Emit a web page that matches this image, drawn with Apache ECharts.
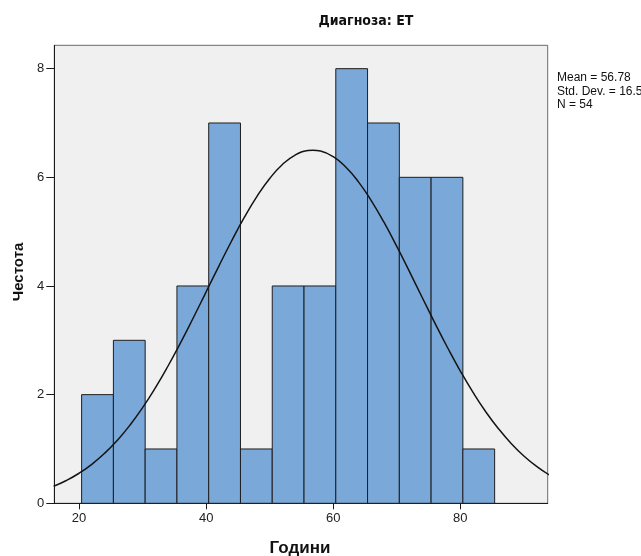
<!DOCTYPE html>
<html>
<head>
<meta charset="utf-8">
<script src="https://cdn.jsdelivr.net/npm/echarts@6/dist/echarts.min.js"></script>
<style>
  html, body { margin: 0; padding: 0; background: #ffffff; }
  #chart { width: 641px; height: 556px; }
</style>
</head>
<body>
<div id="chart"></div>
<script>
// Histogram of ages (Години) for diagnosis ET, with a fitted normal curve.
var binLowerEdges = [20.4, 25.4, 30.4, 35.4, 40.4, 45.4, 50.4, 55.4, 60.4, 65.4, 70.4, 75.4, 80.4];
var binWidth = 5;
var binCounts = [2, 3, 1, 4, 7, 1, 4, 4, 8, 7, 6, 6, 1];

// Normal curve points (age, expected frequency)
var curveX = [16, 18, 20, 22, 24, 26, 28, 30, 32, 34, 36, 38, 40, 42, 44, 46, 48, 50, 52, 54, 56, 56.78,
              58, 60, 62, 64, 66, 68, 70, 72, 74, 76, 78, 80, 82, 84, 86, 88, 90, 92, 94];
var curveY = [0.315, 0.420, 0.553, 0.718, 0.919, 1.158, 1.438, 1.761, 2.125, 2.527, 2.961, 3.420, 3.893,
              4.367, 4.828, 5.261, 5.649, 5.978, 6.236, 6.410, 6.493, 6.500,
              6.483, 6.379, 6.186, 5.912, 5.568, 5.169, 4.728, 4.264, 3.788, 3.317, 2.863, 2.435,
              2.041, 1.686, 1.373, 1.102, 0.871, 0.679, 0.522];

var xTicks = [20, 40, 60, 80];
var yTicks = [0, 2, 4, 6, 8];
var statLines = ['Mean = 56.78', 'Std. Dev. = 16.57', 'N = 54'];

var histData = binLowerEdges.map(function (x0, i) { return [x0, x0 + binWidth, binCounts[i]]; });
var curveData = curveX.map(function (x, i) { return [x, curveY[i]]; });

var chart = echarts.init(document.getElementById('chart'), null, { renderer: 'canvas' });

var labelFont = 'Liberation Sans, Arial, sans-serif';

chart.setOption({
  animation: false,
  backgroundColor: '#ffffff',
  grid: {
    left: 54.3, right: 93.3, top: 45.3, bottom: 52.7,
    show: true,
    backgroundColor: '#f0f0f0',
    borderColor: '#6a6a6a',
    borderWidth: 1
  },
  xAxis: {
    type: 'value',
    min: 16.1,
    max: 93.75,
    splitLine: { show: false },
    axisLine: { show: true, onZero: false, lineStyle: { color: '#1a1a1a', width: 1 } },
    axisTick: { show: true, length: 6, customValues: xTicks, lineStyle: { color: '#1a1a1a' } },
    axisLabel: { customValues: xTicks, color: '#222', fontSize: 13, fontFamily: labelFont, margin: 9 }
  },
  yAxis: {
    type: 'value',
    min: 0,
    max: 8.43,
    splitLine: { show: false },
    axisLine: { show: true, onZero: false, lineStyle: { color: '#1a1a1a', width: 1 } },
    axisTick: { show: true, length: 8, customValues: yTicks, lineStyle: { color: '#1a1a1a' } },
    axisLabel: { customValues: yTicks, color: '#222', fontSize: 13, fontFamily: labelFont, margin: 10 }
  },
  graphic: [
    { type: 'text', x: 366, y: 21, style: { text: 'Диагноза: ET', fill: '#111', font: 'bold 14px "Liberation Sans Narrow", "DejaVu Sans Condensed", Arial, sans-serif', textAlign: 'center', textVerticalAlign: 'middle' } },
    { type: 'text', x: 557, y: 71, style: { text: statLines.join('\n'), fill: '#111', font: '12px "Liberation Sans", Arial, sans-serif', lineHeight: 13.5 } },
    { type: 'text', x: 300, y: 548, style: { text: 'Години', fill: '#111', font: 'bold 17px "Liberation Sans", Arial, sans-serif', textAlign: 'center', textVerticalAlign: 'middle' } },
    { type: 'text', x: 19, y: 272, rotation: Math.PI / 2, style: { text: 'Честота', fill: '#111', font: 'bold 15px "Liberation Sans", Arial, sans-serif', textAlign: 'center', textVerticalAlign: 'middle' } }
  ],
  series: [
    {
      type: 'custom',
      data: histData,
      clip: true,
      z: 2,
      renderItem: function (params, api) {
        var p0 = api.coord([api.value(0), api.value(2)]);
        var p1 = api.coord([api.value(1), 0]);
        return {
          type: 'rect',
          shape: { x: p0[0], y: p0[1], width: p1[0] - p0[0], height: p1[1] - p0[1] },
          style: { fill: '#7aa8d8', stroke: '#1e1e1e', lineWidth: 1 }
        };
      }
    },
    {
      type: 'line',
      data: curveData,
      smooth: true,
      showSymbol: false,
      clip: true,
      z: 3,
      lineStyle: { color: '#141414', width: 1.5 }
    }
  ]
});
</script>
</body>
</html>
